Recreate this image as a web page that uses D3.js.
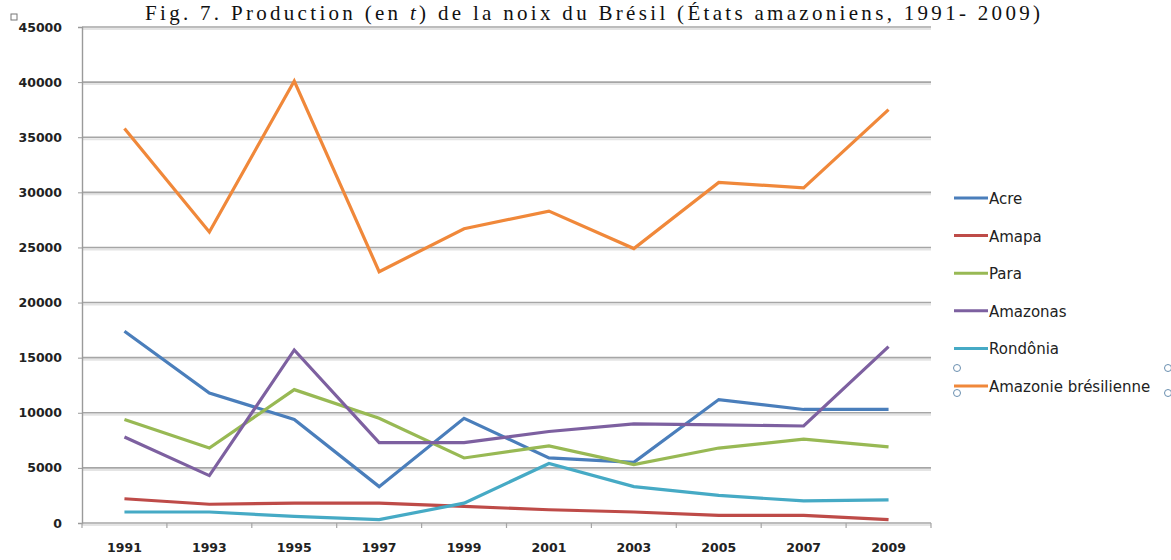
<!DOCTYPE html>
<html><head><meta charset="utf-8">
<script src="https://cdn.jsdelivr.net/npm/d3@7/dist/d3.min.js"></script>
<style>
html,body{margin:0;padding:0;background:#fff;}
svg{display:block;}
</style></head>
<body><svg id="c" width="1171" height="560"></svg>
<script>
const title = "Fig. 7. Production (en t) de la noix du Brésil (États amazoniens, 1991- 2009)";
const years = ["1991","1993","1995","1997","1999","2001","2003","2005","2007","2009"];
const yTicks = [0,5000,10000,15000,20000,25000,30000,35000,40000,45000];
const seriesNames = ["Acre","Amapa","Para","Amazonas","Rondônia","Amazonie brésilienne"];
const acre      = [17400,11800,9400,3300,9500,5900,5500,11200,10300,10300];
const amapa     = [2200,1700,1800,1800,1500,1200,1000,700,700,300];
const para      = [9400,6800,12100,9500,5900,7000,5300,6800,7600,6900];
const amazonas  = [7800,4300,15700,7300,7300,8300,9000,8900,8800,16000];
const rondonia  = [1000,1000,600,300,1800,5400,3300,2500,2000,2100];
const amazonie  = [35800,26400,40100,22800,26700,28300,24900,30900,30400,37500];
const colors = ["#4a7ebb","#be4b48","#98b954","#7d60a0","#46aac5","#f0883a"];

const series = [acre, amapa, para, amazonas, rondonia, amazonie];
const svg = d3.select("#c");
const L = 82, R = 931, T = 27, B = 523;

const x = d3.scaleBand().domain(years).range([L, R]);
const y = d3.scaleLinear().domain([0, 45000]).range([B, T]);

// title
svg.append("text").attr("x", 145).attr("y", 20)
  .attr("textLength", 895).attr("lengthAdjust", "spacing")
  .attr("font-family","Liberation Serif, serif").attr("font-size", 21).attr("fill","#111")
  .call(t => {
    t.append("tspan").text("Fig. 7. Production (en ");
    t.append("tspan").attr("font-style","italic").text("t");
    t.append("tspan").text(") de la noix du Brésil (États amazoniens, 1991- 2009)");
  });

// gridlines
const grid = svg.append("g");
grid.selectAll("line.s").data(yTicks).join("line")
  .attr("x1", L).attr("x2", R).attr("y1", d => y(d)+2).attr("y2", d => y(d)+2)
  .attr("stroke", "#e4e4e4").attr("stroke-width", 2);
grid.selectAll("line.g").data(yTicks).join("line")
  .attr("x1", L).attr("x2", R).attr("y1", d => y(d)).attr("y2", d => y(d))
  .attr("stroke", "#a6a6a6").attr("stroke-width", 1.6);

const tickFont = sel => sel.attr("font-family","DejaVu Sans, sans-serif")
  .attr("font-size", 12.5).attr("font-weight","bold").attr("fill","#222");

// y axis
const yAxis = svg.append("g").attr("transform", `translate(${L},0)`)
  .call(d3.axisLeft(y).tickValues(yTicks).tickSize(4).tickPadding(16).tickFormat(d3.format("d")));
yAxis.select(".domain").attr("stroke", "#9a9a9a").attr("stroke-width", 1.4);
yAxis.selectAll(".tick line").attr("stroke", "#9a9a9a");
yAxis.selectAll("text").call(tickFont);

// x axis
const xAxis = svg.append("g").attr("transform", `translate(0,${B})`)
  .call(d3.axisBottom(x).tickSize(0).tickPadding(20));
xAxis.select(".domain").remove();
xAxis.selectAll("text").call(tickFont);
svg.append("g").selectAll("line").data(years.concat(["end"])).join("line")
  .attr("x1", (d,i) => L + i*x.step()).attr("x2", (d,i) => L + i*x.step())
  .attr("y1", B).attr("y2", B+5).attr("stroke", "#a6a6a6").attr("stroke-width",1.2);

// lines
const line = d3.line().x((d,i) => x(years[i]) + x.bandwidth()/2).y(d => y(d));
svg.append("g").selectAll("path").data(series).join("path")
  .attr("d", d => line(d)).attr("fill","none")
  .attr("stroke", (d,i) => colors[i]).attr("stroke-width", 3.2)
  .attr("stroke-linejoin","miter");

// legend
const lg = svg.append("g");
const ly = i => 198 + i*37.6;
seriesNames.forEach((n,i) => {
  lg.append("line").attr("x1", 954).attr("x2", 988).attr("y1", ly(i)).attr("y2", ly(i))
    .attr("stroke", colors[i]).attr("stroke-width", 3);
  lg.append("text").attr("x", 989).attr("y", ly(i)+6).text(n)
    .attr("font-family","DejaVu Sans, sans-serif").attr("font-size", 15)
    .attr("fill","#222");
});
// selection handles
[[957,368],[957,393],[1168,368],[1168,393]].forEach(p => {
  svg.append("circle").attr("cx", p[0]).attr("cy", p[1]).attr("r", 3.5)
    .attr("fill","none").attr("stroke","#6a8fb0").attr("stroke-width",1);
});
svg.append("rect").attr("x", 11).attr("y", 14).attr("width", 6).attr("height", 6)
  .attr("fill","none").attr("stroke","#777").attr("stroke-width",1);
</script></body></html>
